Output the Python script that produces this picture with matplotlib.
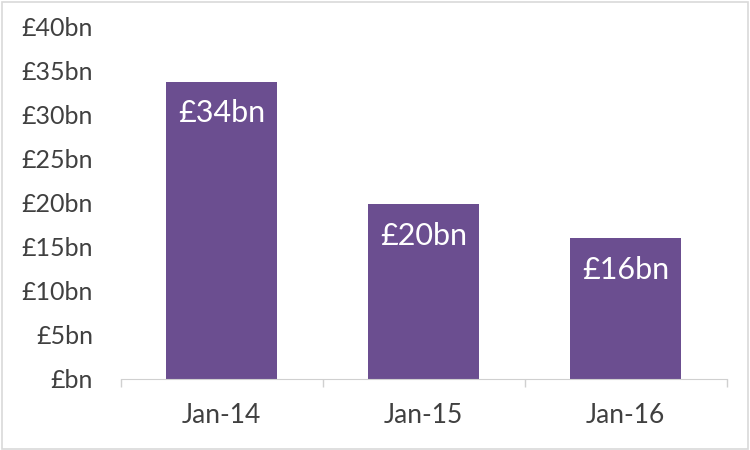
import matplotlib
matplotlib.use('Agg')
import matplotlib.pyplot as plt
from matplotlib.patches import Rectangle

categories = ['Jan-14', 'Jan-15', 'Jan-16']
values = [33.8, 19.9, 16.0]
bar_labels = ['£34bn', '£20bn', '£16bn']
y_ticks = [0, 5, 10, 15, 20, 25, 30, 35, 40]
y_tick_labels = ['£bn', '£5bn', '£10bn', '£15bn', '£20bn', '£25bn', '£30bn', '£35bn', '£40bn']

plt.rcParams['font.family'] = ['Lato', 'DejaVu Sans']

fig = plt.figure(figsize=(7.5, 4.5), dpi=100)
ax = fig.add_axes([0.161, 0.158, 0.808, 0.782])

x = list(range(len(categories)))
bars = ax.bar(x, values, width=0.55, color='#6B4E90')

for bar, label in zip(bars, bar_labels):
    ax.annotate(label, (bar.get_x() + bar.get_width() / 2, bar.get_height()),
                xytext=(0, -23), textcoords='offset points', ha='center', va='center',
                color='white', fontsize=22)

ax.set_xlim(-0.5, len(categories) - 0.5)
ax.set_ylim(0, 40)
ax.set_yticks(y_ticks)
ax.set_yticklabels(y_tick_labels, fontsize=18, color='#404040')
ax.set_xticks(x)
ax.set_xticklabels(categories, fontsize=19, color='#404040')
ax.tick_params(axis='y', length=0, pad=20)
ax.tick_params(axis='x', length=0, pad=17)

# separators between categories on the x axis
ax.set_xticks([-0.5, 0.5, 1.5, 2.5], minor=True)
ax.tick_params(axis='x', which='minor', length=6, color='#D0D0D0', width=1)

for side in ['top', 'right', 'left']:
    ax.spines[side].set_visible(False)
ax.spines['bottom'].set_color('#D0D0D0')

fig.patches.append(Rectangle((0.002, 0.003), 0.995, 0.993, transform=fig.transFigure,
                             fill=False, edgecolor='#D9D9D9', linewidth=1.2))

fig.savefig('out.png', dpi=100)
